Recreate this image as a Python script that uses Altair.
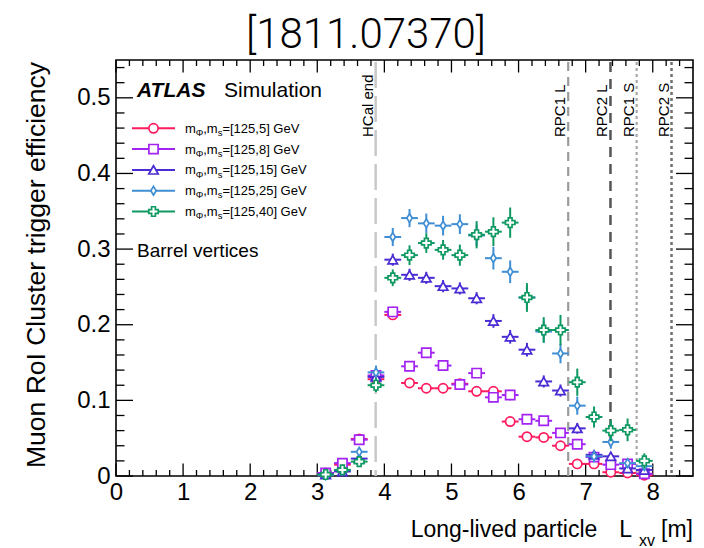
import altair as alt
import pandas as pd

FONT = "Liberation Sans"

# ---------------------------------------------------------------- data
# bin centres of the transverse decay position L_xy (0.25 m bins)
bin_centers = [3.125, 3.375, 3.625, 3.875, 4.125, 4.375, 4.625, 4.875, 5.125, 5.375,
               5.625, 5.875, 6.125, 6.375, 6.625, 6.875, 7.125, 7.375, 7.625, 7.875]
bin_half_width = 0.125

mass_phi = 125
mass_s = [5, 8, 15, 25, 40]

eff_ms5 = [0.004, 0.015, 0.049, 0.128, 0.213, 0.123, 0.116, 0.116, 0.122, 0.112,
           0.112, 0.072, 0.052, 0.051, 0.040, 0.016, 0.016, 0.005, 0.004, 0.001]
err_ms5 = [0.002, 0.003, 0.004, 0.006, 0.006, 0.005, 0.005, 0.005, 0.005, 0.005,
           0.006, 0.006, 0.005, 0.005, 0.005, 0.004, 0.004, 0.003, 0.003, 0.002]

eff_ms8 = [0.004, 0.017, 0.048, 0.133, 0.217, 0.145, 0.163, 0.146, 0.121, 0.136,
           0.104, 0.107, 0.075, 0.073, 0.057, 0.042, 0.025, 0.015, 0.016, 0.003]
err_ms8 = [0.002, 0.003, 0.004, 0.006, 0.007, 0.006, 0.006, 0.006, 0.006, 0.006,
           0.006, 0.007, 0.006, 0.006, 0.006, 0.005, 0.004, 0.004, 0.004, 0.002]

eff_ms15 = [0.002, 0.006, 0.023, 0.131, 0.286, 0.266, 0.262, 0.251, 0.248, 0.235,
            0.205, 0.184, 0.167, 0.125, 0.113, 0.063, 0.028, 0.026, 0.010, 0.008]
err_ms15 = [0.002, 0.003, 0.004, 0.007, 0.008, 0.008, 0.008, 0.008, 0.008, 0.008,
            0.009, 0.009, 0.009, 0.008, 0.008, 0.007, 0.005, 0.005, 0.004, 0.003]

eff_ms25 = [0.001, 0.008, 0.032, 0.137, 0.316, 0.341, 0.334, 0.331, 0.333, 0.318,
            0.288, 0.270, 0.236, 0.191, 0.162, 0.093, 0.026, 0.045, 0.017, 0.013]
err_ms25 = [0.002, 0.003, 0.005, 0.009, 0.012, 0.012, 0.013, 0.013, 0.013, 0.014,
            0.015, 0.015, 0.015, 0.014, 0.013, 0.012, 0.008, 0.009, 0.006, 0.005]

eff_ms40 = [0.002, 0.008, 0.019, 0.120, 0.262, 0.292, 0.308, 0.299, 0.292, 0.319,
            0.323, 0.335, 0.236, 0.193, 0.193, 0.124, 0.078, 0.060, 0.061, 0.020]
err_ms40 = [0.002, 0.003, 0.005, 0.009, 0.011, 0.013, 0.013, 0.013, 0.014, 0.018,
            0.019, 0.020, 0.019, 0.017, 0.020, 0.018, 0.014, 0.014, 0.015, 0.010]

efficiencies = [eff_ms5, eff_ms8, eff_ms15, eff_ms25, eff_ms40]
uncertainties = [err_ms5, err_ms8, err_ms15, err_ms25, err_ms40]

series_colors = ["#ff1a5e", "#a323f2", "#4a2bd4", "#3f8ed4", "#0f9962"]
DIAMOND = "M0,-1L0.62,0L0,1L-0.62,0Z"
series_shapes = ["circle", "square", "triangle-up", DIAMOND, "cross"]
series_sizes = [85, 85, 90, 75, 90]

# detector boundaries (m)
boundary_names = ["HCal end", "RPC1 L", "RPC2 L", "RPC1 S", "RPC2 S"]
boundary_pos = [3.87, 6.74, 7.37, 7.76, 8.28]
boundary_colors = ["#c8c8c8", "#9a9a9a", "#555555", "#a8a8a8", "#707070"]
boundary_dash = [[26, 8], [9, 6], [10, 7], [3, 3], [3, 3]]
boundary_width = [2.5, 2.2, 2.5, 2.2, 2.5]

x_tick_labels = list(range(0, 9))
y_tick_labels = [0.0, 0.1, 0.2, 0.3, 0.4, 0.5]

# ---------------------------------------------------------------- geometry
W, H = 577, 416
X_MAX, Y_MAX = 8.6, 0.55

xs = alt.Scale(domain=[0, X_MAX], nice=False, zero=False)
ys = alt.Scale(domain=[0, Y_MAX], nice=False, zero=False)

xax = alt.Axis(values=x_tick_labels, ticks=False, domain=False, grid=False,
               labelFont=FONT, labelFontSize=24, labelColor="black",
               labelPadding=4, labelFlush=False, labelOverlap=False, title=None)
yax = alt.Axis(values=y_tick_labels, ticks=False, domain=False, grid=False,
               labelFont=FONT, labelFontSize=24, labelColor="black",
               labelPadding=6, labelFlush=False, labelOverlap=False, title=None,
               labelExpr="datum.value == 0 ? '0' : format(datum.value, '.1f')")

layers = []

# ---------------------------------------------------------------- inward ticks
x_major = [float(v) for v in x_tick_labels]
x_minor = [round(0.2 * i, 1) for i in range(1, 43) if i % 5]
y_major = y_tick_labels
y_minor = [round(0.02 * i, 2) for i in range(1, 28) if i % 5]


def x_ticks(vals, length, top):
    df = pd.DataFrame({"v": vals})
    y0 = 0 if top else H
    y1 = length if top else H - length
    return alt.Chart(df).mark_rule(color="black", strokeWidth=1.3).encode(
        x=alt.X("v:Q", scale=xs, axis=xax),
        y=alt.value(y0), y2=alt.value(y1))


def y_ticks(vals, length, right):
    df = pd.DataFrame({"v": vals})
    x0 = W if right else 0
    x1 = W - length if right else length
    return alt.Chart(df).mark_rule(color="black", strokeWidth=1.3).encode(
        y=alt.Y("v:Q", scale=ys, axis=yax),
        x=alt.value(x0), x2=alt.value(x1))


for top in (False, True):
    layers.append(x_ticks(x_major, 12.5, top))
    layers.append(x_ticks(x_minor, 6, top))
for right in (False, True):
    layers.append(y_ticks(y_major, 17, right))
    layers.append(y_ticks(y_minor, 8.5, right))

# ---------------------------------------------------------------- detector boundaries
for name, pos, col, dash, sw in zip(boundary_names, boundary_pos, boundary_colors,
                                   boundary_dash, boundary_width):
    bdf = pd.DataFrame({"pos": [pos], "name": [name]})
    layers.append(alt.Chart(bdf).mark_rule(color=col, strokeDash=dash, strokeWidth=sw).encode(
        x=alt.X("pos:Q", scale=xs, axis=xax), y=alt.value(2), y2=alt.value(H)))
    layers.append(alt.Chart(bdf).mark_text(
        font=FONT, fontSize=15, color="black", angle=270, align="left",
        baseline="alphabetic").encode(
        x=alt.X("pos:Q", scale=xs, axis=xax), xOffset=alt.value(-3),
        y=alt.value(77), text="name:N"))

# ---------------------------------------------------------------- efficiency graphs
for eff, err, col, shp, sz in zip(efficiencies, uncertainties, series_colors,
                                  series_shapes, series_sizes):
    df = pd.DataFrame({
        "x": bin_centers,
        "xlo": [c - bin_half_width for c in bin_centers],
        "xhi": [c + bin_half_width for c in bin_centers],
        "eff": eff,
        "ylo": [e - d for e, d in zip(eff, err)],
        "yhi": [e + d for e, d in zip(eff, err)],
    })
    base = alt.Chart(df)
    layers.append(base.mark_rule(color=col, strokeWidth=2).encode(
        x=alt.X("xlo:Q", scale=xs, axis=xax), x2="xhi:Q",
        y=alt.Y("eff:Q", scale=ys, axis=yax)))
    layers.append(base.mark_rule(color=col, strokeWidth=2).encode(
        x=alt.X("x:Q", scale=xs, axis=xax),
        y=alt.Y("ylo:Q", scale=ys, axis=yax), y2="yhi:Q"))
    layers.append(base.mark_point(shape=shp, size=sz, filled=True, fill="white",
                                  stroke=col, strokeWidth=1.7, opacity=1).encode(
        x=alt.X("x:Q", scale=xs, axis=xax),
        y=alt.Y("eff:Q", scale=ys, axis=yax)))

# ---------------------------------------------------------------- text helpers
# Helvetica/Arial advance widths (1/1000 em)
ADV = {
    "a": 556, "b": 556, "c": 500, "d": 556, "e": 556, "f": 278, "g": 556, "h": 556,
    "i": 222, "j": 222, "k": 500, "l": 222, "m": 833, "n": 556, "o": 556, "p": 556,
    "q": 556, "r": 333, "s": 500, "t": 278, "u": 556, "v": 500, "w": 722, "x": 500,
    "y": 500, "z": 500, "G": 778, "L": 556, "V": 667, "Φ": 778,
    "-": 333, " ": 278, ",": 278, ".": 278, "=": 584, "[": 278, "]": 278,
}


def text_width(s, fs):
    return sum(ADV.get(c, 556) for c in s) * fs / 1000.0


def text_layer(rows, **kw):
    tdf = pd.DataFrame(rows, columns=["px", "py", "txt", "fs"])
    return alt.Chart(tdf).mark_text(font=FONT, align="left", baseline="alphabetic",
                                    color="black", **kw).encode(
        x=alt.X("px:Q", scale=None), y=alt.Y("py:Q", scale=None),
        text="txt:N", size=alt.Size("fs:Q", scale=None))


# ---------------------------------------------------------------- legend
LEG_Y0, LEG_DY = 68.3, 20.8
leg = pd.DataFrame({
    "ly": [LEG_Y0 + LEG_DY * i for i in range(len(mass_s))],
    "col": series_colors,
    "shp": series_shapes,
    "sz": series_sizes,
})
layers.append(alt.Chart(leg).mark_rule(strokeWidth=2).encode(
    x=alt.value(16), x2=alt.value(59), y=alt.Y("ly:Q", scale=None),
    color=alt.Color("col:N", scale=None)))
layers.append(alt.Chart(leg).mark_point(filled=True, fill="white", strokeWidth=1.7,
                                        opacity=1).encode(
    x=alt.value(37.5), y=alt.Y("ly:Q", scale=None),
    stroke=alt.Stroke("col:N", scale=None), shape=alt.Shape("shp:N", scale=None),
    size=alt.Size("sz:Q", scale=None)))

FS_MAIN, FS_SUB = 13, 9.5
rows = []
for i, ms in enumerate(mass_s):
    yb = LEG_Y0 + LEG_DY * i + 4.5
    pieces = [("m", FS_MAIN, 0), ("Φ", FS_SUB, 3.2), (",m", FS_MAIN, 0),
              ("s", FS_SUB, 3.2), (f"=[{mass_phi},{ms}] GeV", FS_MAIN, 0)]
    px = 69.0
    for txt, fs, off in pieces:
        rows.append((px, yb + off, txt, fs))
        px += text_width(txt, fs)
layers.append(text_layer(rows))

# ATLAS label and selection
layers.append(text_layer([(21, 36.7, "ATLAS", 21)], fontWeight="bold", fontStyle="italic"))
layers.append(text_layer([(108, 36.7, "Simulation", 21), (21, 197, "Barrel vertices", 19)]))

# x-axis title with subscript, right-aligned at the frame
FS_T, FS_TS = 23, 16
bracket_x = W - text_width("[m]", FS_T)
sub_x = bracket_x - 6 - text_width("xv", FS_TS)
l_x = sub_x - 7 - text_width("L", FS_T)
main_x = l_x - 22 - text_width("Long-lived particle", FS_T)
layers.append(text_layer([
    (main_x, 477, "Long-lived particle", FS_T),
    (l_x, 477, "L", FS_T),
    (sub_x, 486, "xv", FS_TS),
    (bracket_x, 477, "[m]", FS_T),
]))

# y-axis title
ytitle = pd.DataFrame({"t": ["Muon RoI Cluster trigger efficiency"]})
layers.append(alt.Chart(ytitle).mark_text(
    font=FONT, fontSize=26.5, color="black", angle=270, align="right",
    baseline="alphabetic").encode(x=alt.value(-71), y=alt.value(2), text="t:N"))

# header
header = pd.DataFrame({"t": ["[1811.07370]"]})
layers.append(alt.Chart(header).mark_text(
    font="Roboto", fontWeight=300, fontSize=42, color="black", align="center",
    baseline="alphabetic").encode(x=alt.value(250), y=alt.value(-12), text="t:N"))

chart = alt.layer(*layers).properties(
    width=W, height=H,
    padding={"left": 116, "top": 60, "right": 11, "bottom": 72},
    autosize=alt.AutoSizeParams(type="none"),
    background="white",
).configure_view(stroke="black", strokeWidth=1.6)

chart.save("out.html", embed_options={"renderer": "svg", "actions": False})
